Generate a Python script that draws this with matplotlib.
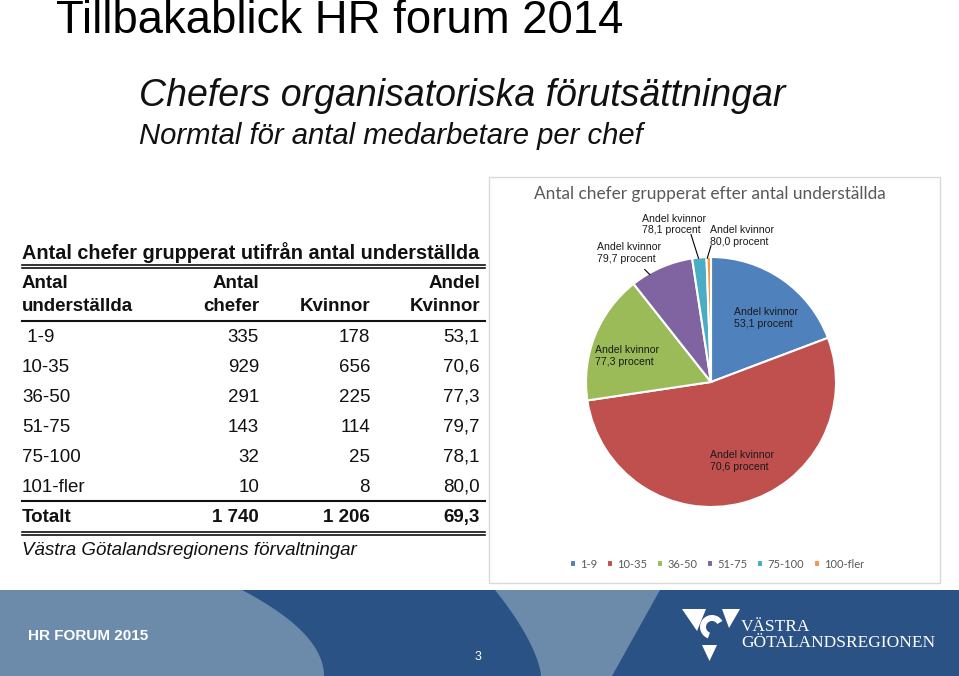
import numpy as np
import matplotlib
matplotlib.use('Agg')
import matplotlib.pyplot as plt
from matplotlib.patches import Rectangle, Polygon, Wedge

# data
groups = ['1-9', '10-35', '36-50', '51-75', '75-100', '100-fler']
table_groups = ['1-9', '10-35', '36-50', '51-75', '75-100', '101-fler']
antal_chefer = [335, 929, 291, 143, 32, 10]
kvinnor = [178, 656, 225, 114, 25, 8]
andel_kvinnor = [53.1, 70.6, 77.3, 79.7, 78.1, 80.0]

colors = ['#4f81bd', '#c0504d', '#9bbb59', '#8064a2', '#4bacc6', '#f79646']
# label anchor (left edge, middle) in pie units
label_pos = [(0.18, 0.51), (-0.01, -0.63), (-0.93, 0.21), (-0.91, 1.03), (-0.55, 1.26), (-0.01, 1.17)]
leaders = {3: [(-0.53, 0.90), (-0.49, 0.86)],
           4: [(-0.16, 1.18), (-0.10, 0.99)],
           5: [(0.00, 1.09), (-0.03, 0.99)]}

W, H = 959, 676
fig = plt.figure(figsize=(W / 100, H / 100), dpi=100)
bg = fig.add_axes([0, 0, 1, 1])
bg.set_xlim(0, W)
bg.set_ylim(H, 0)
bg.axis('off')

SANS = 'Liberation Sans'
TEXT = '#111111'

def fmt(n):
    return '{:,}'.format(n).replace(',', ' ')

def dec(v):
    return '{:.1f}'.format(v).replace('.', ',')

# headings
bg.text(56, 33, 'Tillbakablick HR forum 2014', family=SANS, fontsize=32.8, color='black', va='baseline')
bg.text(139, 106, 'Chefers organisatoriska förutsättningar', family=SANS, style='italic', fontsize=27, color=TEXT, va='baseline')
bg.text(139, 144, 'Normtal för antal medarbetare per chef', family=SANS, style='italic', fontsize=21.1, color=TEXT, va='baseline')

# table
x0, x1 = 22, 485
cols = [259, 370, 480]
bg.text(x0, 259, 'Antal chefer grupperat utifrån antal underställda', family=SANS, fontsize=14.3, weight='bold', color=TEXT, va='baseline')
bg.plot([x0, x1], [264.5, 264.5], color=TEXT, lw=1.2)
bg.plot([x0, x1], [267.5, 267.5], color=TEXT, lw=1.2)
bg.text(x0, 288, 'Antal', family=SANS, fontsize=13.5, weight='bold', color=TEXT, va='baseline')
bg.text(x0, 311, 'underställda', family=SANS, fontsize=13.5, weight='bold', color=TEXT, va='baseline')
bg.text(cols[0], 288, 'Antal', family=SANS, fontsize=13.5, weight='bold', color=TEXT, va='baseline', ha='right')
bg.text(cols[0], 311, 'chefer', family=SANS, fontsize=13.5, weight='bold', color=TEXT, va='baseline', ha='right')
bg.text(cols[1], 311, 'Kvinnor', family=SANS, fontsize=13.5, weight='bold', color=TEXT, va='baseline', ha='right')
bg.text(cols[2], 288, 'Andel', family=SANS, fontsize=13.5, weight='bold', color=TEXT, va='baseline', ha='right')
bg.text(cols[2], 311, 'Kvinnor', family=SANS, fontsize=13.5, weight='bold', color=TEXT, va='baseline', ha='right')
bg.plot([x0, x1], [320.5, 320.5], color=TEXT, lw=1.5)

for i, lbl in enumerate(table_groups):
    yb = 342 + 30 * i
    bg.text(x0, yb, lbl if i else ' ' + lbl, family=SANS, fontsize=13.5, color=TEXT, va='baseline')
    vals = [fmt(antal_chefer[i]), fmt(kvinnor[i]), dec(andel_kvinnor[i])]
    for cx, v in zip(cols, vals):
        bg.text(cx, yb, v, family=SANS, fontsize=13.5, color=TEXT, va='baseline', ha='right')

tot_c = sum(antal_chefer)
tot_k = sum(kvinnor)
bg.plot([x0, x1], [501, 501], color=TEXT, lw=1.5)
yb = 522
bg.text(x0, yb, 'Totalt', family=SANS, fontsize=13.5, weight='bold', color=TEXT, va='baseline')
for cx, v in zip(cols, [fmt(tot_c), fmt(tot_k), dec(100.0 * tot_k / tot_c)]):
    bg.text(cx, yb, v, family=SANS, fontsize=13.5, weight='bold', color=TEXT, va='baseline', ha='right')
bg.plot([x0, x1], [531.5, 531.5], color=TEXT, lw=1.2)
bg.plot([x0, x1], [534.5, 534.5], color=TEXT, lw=1.2)
bg.text(x0, 555, 'Västra Götalandsregionens förvaltningar', family=SANS, style='italic', fontsize=13.5, color=TEXT, va='baseline')

# chart box
bg.add_patch(Rectangle((489, 177), 451, 406, facecolor='white', edgecolor='#d9d9d9', lw=1))
bg.text(710, 194, 'Antal chefer grupperat efter antal underställda', family='Lato', fontsize=12.4, color='#595959', ha='center', va='center')

# pie
cx, cy, r = 711, 382, 125
ax = fig.add_axes([(cx - r) / W, (H - cy - r) / H, 2 * r / W, 2 * r / H])
wedges, _ = ax.pie(antal_chefer, colors=colors, startangle=90, counterclock=False,
                   wedgeprops=dict(edgecolor='white', linewidth=1.5))
ax.set_xlim(-1, 1)
ax.set_ylim(-1, 1)
ax.set_aspect('equal')
ax.axis('off')
for i, v in enumerate(andel_kvinnor):
    lx, ly = label_pos[i]
    ax.text(lx, ly, 'Andel kvinnor\n' + dec(v) + ' procent', family=SANS, fontsize=7.6,
            color='#1a1a1a', ha='left', va='center', linespacing=1.2, clip_on=False)
for i, pts in leaders.items():
    ax.plot([pts[0][0], pts[1][0]], [pts[0][1], pts[1][1]], color='black', lw=0.8, clip_on=False)

leg = fig.legend(wedges, groups, loc='center', bbox_to_anchor=(717 / W, 1 - 564 / H), ncol=6,
                 frameon=False, handlelength=0.55, handleheight=0.55, handletextpad=0.4,
                 columnspacing=0.85, prop={'family': 'Lato', 'size': 8})
for t in leg.get_texts():
    t.set_color('#595959')

# footer band
light = '#6c8bab'
dark = '#2b5284'
top, bot = 590, 676
bg.add_patch(Rectangle((0, top), W, bot - top, facecolor=light, edgecolor='none'))
t = np.linspace(0, 1, 40)
ys = top + (bot - top) * t
left_curve = 242 + 82 * (1 - (1 - t) ** 2)
mid_curve = 495 + 46 * (1 - (1 - t) ** 1.5)
pts = list(zip(left_curve, ys)) + list(zip(mid_curve[::-1], ys[::-1]))
bg.add_patch(Polygon(pts, closed=True, facecolor=dark, edgecolor='none'))
bg.add_patch(Polygon([(660, top), (W, top), (W, bot), (612, bot)], closed=True, facecolor=dark, edgecolor='none'))

bg.text(28, 640, 'HR FORUM 2015', family=SANS, fontsize=11, weight='bold', color='white', va='baseline')
bg.text(478, 660, '3', family=SANS, fontsize=9, color='white', va='baseline', ha='center')

# logo
bg.add_patch(Polygon([(682, 609), (706, 609), (697, 631)], closed=True, facecolor='white', edgecolor='none'))
bg.add_patch(Polygon([(722, 609), (740, 609), (729, 628)], closed=True, facecolor='white', edgecolor='none'))
bg.add_patch(Polygon([(702, 645), (717, 645), (709.5, 661)], closed=True, facecolor='white', edgecolor='none'))
bg.add_patch(Wedge((712, 627), 12, 110, 330, width=6, facecolor='white', edgecolor='none', transform=bg.transData))
bg.text(741, 631, 'VÄSTRA', family='Liberation Serif', fontsize=12.5, color='white', va='baseline')
bg.text(741, 647, 'GÖTALANDSREGIONEN', family='Liberation Serif', fontsize=12.5, color='white', va='baseline')

fig.savefig('out.png', dpi=100, facecolor='white')
